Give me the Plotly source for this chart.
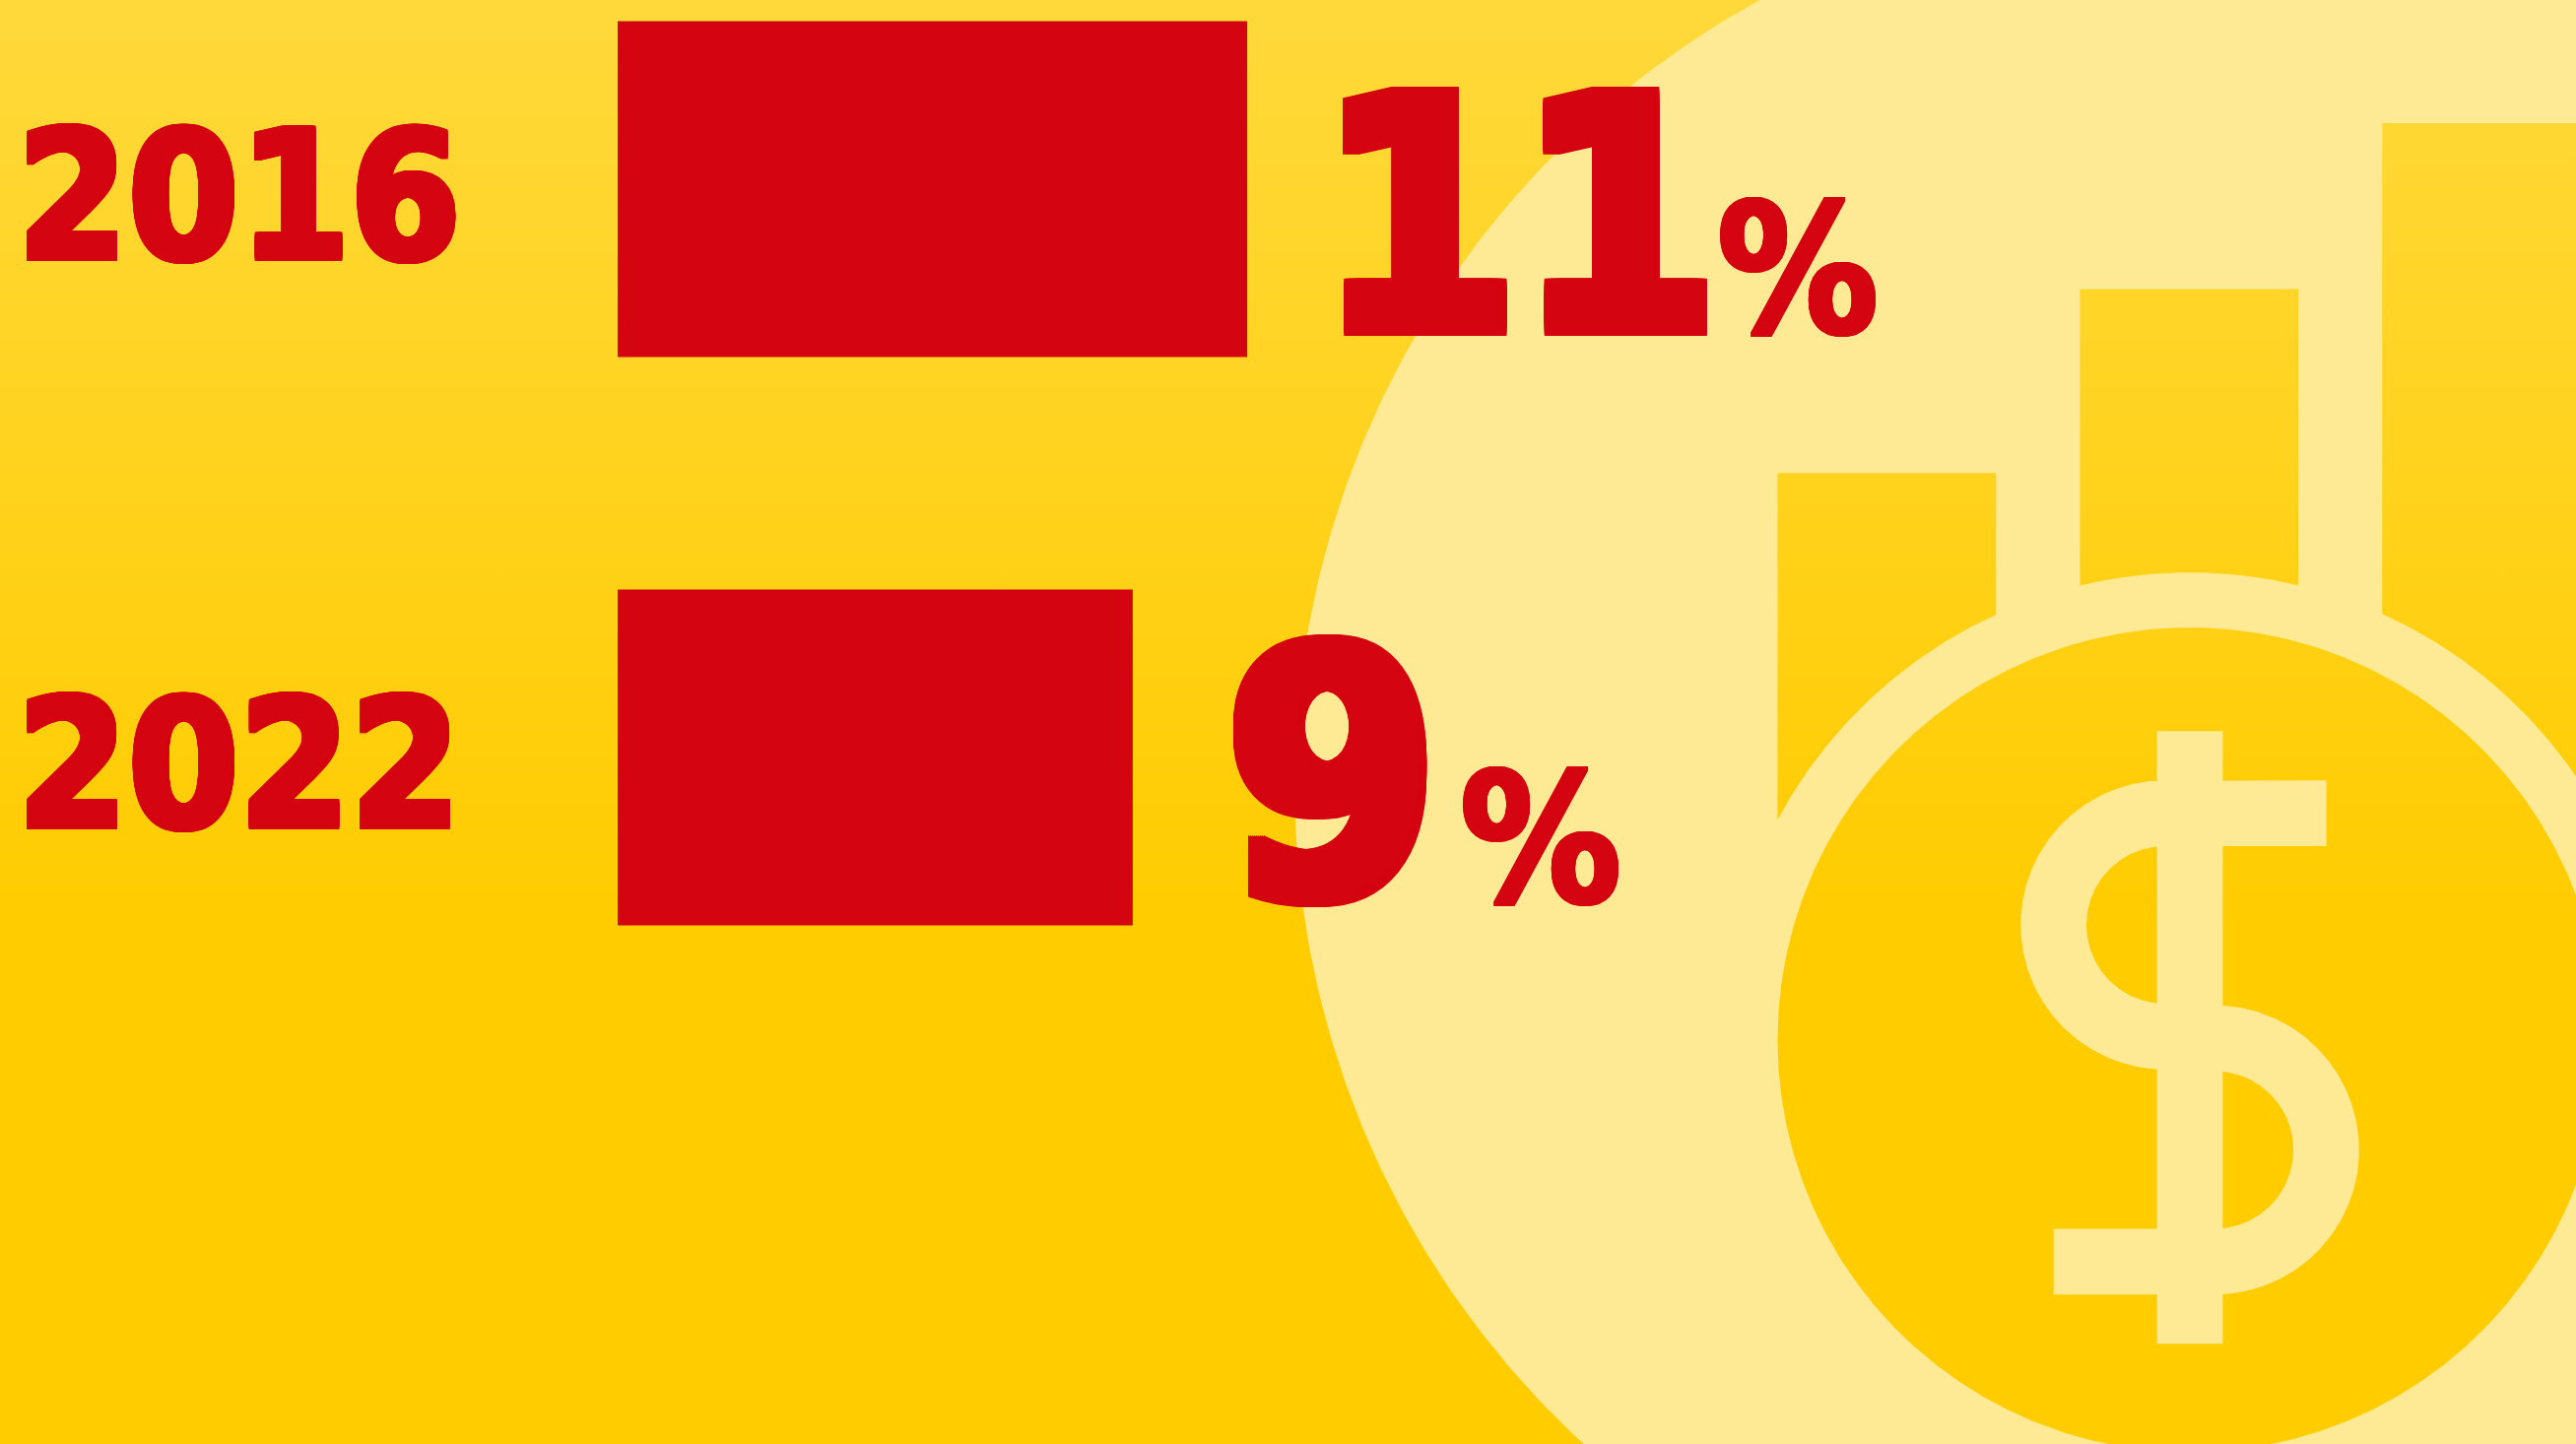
import numpy as np
import plotly.graph_objects as go

years = ["2016", "2022"]
shares = [11, 9]
value_labels = ["11", "9"]

RED = "#D40511"
LIGHT = "#FEE994"
FONT = "DejaVu Sans Condensed, DejaVu Sans, sans-serif"
W, H = 2615, 1466
RW, RH = 1568, 879
GRAD = dict(type="vertical", start=0, stop=RH,
            colorscale=[[0, "#FFD93B"], [0.64, "#FFCC00"], [1, "#FFCC00"]])


def fat(n):
    step = max(1, n // 4)
    pts = [(dx, dy) for dx in range(-n, n + 1, step) for dy in range(-n, n + 1, step)]
    return ", ".join(f"{dx}px {dy}px 0 {RED}" for dx, dy in pts if (dx, dy) != (0, 0))


def arc(cx, cy, r, a0, a1, n=160):
    t = np.radians(np.linspace(a0, a1, n))
    return list(cx + r * np.cos(t)), list(cy + r * np.sin(t))


def poly(x, y, color=None, grad=None):
    kw = dict(fillgradient=grad) if grad else dict(fillcolor=color)
    return go.Scatter(x=list(x) + [x[0]], y=list(y) + [y[0]], mode="lines", fill="toself",
                      line=dict(width=0), hoverinfo="skip", showlegend=False, xaxis="x", yaxis="y", **kw)


fig = go.Figure()
fig.add_trace(poly([0, RW, RW, 0], [0, 0, RH, RH], grad=GRAD))
cx, cy = arc(1333, 478, 545, 0, 360, 720)
fig.add_trace(poly(cx, cy, color=LIGHT))
CX, CY, CR, GAP = 1333, 633, 251, 284.5
cx, cy = arc(CX, CY, CR, 0, 360, 720)
fig.add_trace(poly(cx, cy, grad=GRAD))


def icon_bar(x0, x1, top):
    a0 = np.degrees(np.arctan2(-np.sqrt(GAP**2 - (x1 - CX)**2), x1 - CX))
    a1 = np.degrees(np.arctan2(-np.sqrt(GAP**2 - (x0 - CX)**2), x0 - CX))
    ax, ay = arc(CX, CY, GAP, a0, a1, 80)
    return poly([x0, x1] + ax + [x0], [top, top] + ay + [top], grad=GRAD)


fig.add_trace(icon_bar(1082, 1215, 288))
fig.add_trace(icon_bar(1266, 1399, 176))
fig.add_trace(icon_bar(1450, 1583, 75))

UX, UY, LX, LY = 1318, 563, 1348, 700
sx, sy = [1416], [475]
ax, ay = arc(UX, UY, 88, 270, 90); sx += ax; sy += ay
ax, ay = arc(LX, LY, 48, -90, 90); sx += ax; sy += ay
sx += [1250, 1250]; sy += [748, 788]
ax, ay = arc(LX, LY, 88, 90, -90); sx += ax; sy += ay
ax, ay = arc(UX, UY, 48, 90, 270); sx += ax; sy += ay
sx += [1416]; sy += [515]
fig.add_trace(poly(sx, sy, color=LIGHT))
fig.add_trace(poly([1313, 1353, 1353, 1313], [445, 445, 818, 818], color=LIGHT))

fig.add_trace(go.Bar(x=shares, y=years, orientation="h", marker=dict(color=RED, line=dict(width=0)),
                     width=0.591, xaxis="x2", yaxis="y2", showlegend=False, hoverinfo="skip"))

PX_PER_UNIT = 58.1
BAR_LEFT = 627
ROW0, PITCH = 192, 577

NUM_STYLE = [dict(size=325, xshift=70, yshift=-28), dict(size=345, xshift=92, yshift=-19)]
PCT_XSHIFT = [643, 498]
PCT_YSHIFT = [-82, -83]

ann = []
for i, (v, lab) in enumerate(zip(shares, value_labels)):
    s = NUM_STYLE[i]
    ann.append(dict(x=v, y=i, xref="x2", yref="y2", text=lab, showarrow=False, xanchor="left", yanchor="middle",
                    xshift=s["xshift"], yshift=s["yshift"],
                    font=dict(family=FONT, size=s["size"], color=RED, weight=700, shadow=fat(8))))
    ann.append(dict(x=v, y=i, xref="x2", yref="y2", text="%", showarrow=False, xanchor="right", yanchor="middle",
                    xshift=PCT_XSHIFT[i], yshift=PCT_YSHIFT[i],
                    font=dict(family=FONT, size=182, color=RED, weight=700, shadow=fat(2))))

fig.update_layout(
    width=W, height=H, margin=dict(l=0, r=0, t=0, b=0, autoexpand=False), autosize=False,
    paper_bgcolor="#FFCC00", plot_bgcolor="rgba(0,0,0,0)", showlegend=False, annotations=ann,
    xaxis=dict(domain=[0, 1], range=[0, RW], visible=False, fixedrange=True, automargin=False),
    yaxis=dict(domain=[0, 1], range=[RH, 0], visible=False, fixedrange=True, automargin=False),
    xaxis2=dict(domain=[BAR_LEFT / W, 1], range=[0, (W - BAR_LEFT) / PX_PER_UNIT], visible=False,
                anchor="y2", fixedrange=True, automargin=False),
    yaxis2=dict(domain=[0, 1], range=[(H - ROW0) / PITCH, -ROW0 / PITCH], type="category",
                categoryorder="array", categoryarray=years, anchor="x2", showgrid=False, zeroline=False,
                showline=False, ticks="", ticklabelstandoff=158, ticklabelshift=-7, fixedrange=True, automargin=False,
                tickfont=dict(family=FONT, size=180, color=RED, weight=700, shadow=fat(3))),
)
fig.write_html("out.html", config=dict(displayModeBar=False),
               post_script="document.body.style.margin='0';document.body.style.overflow='hidden';")
